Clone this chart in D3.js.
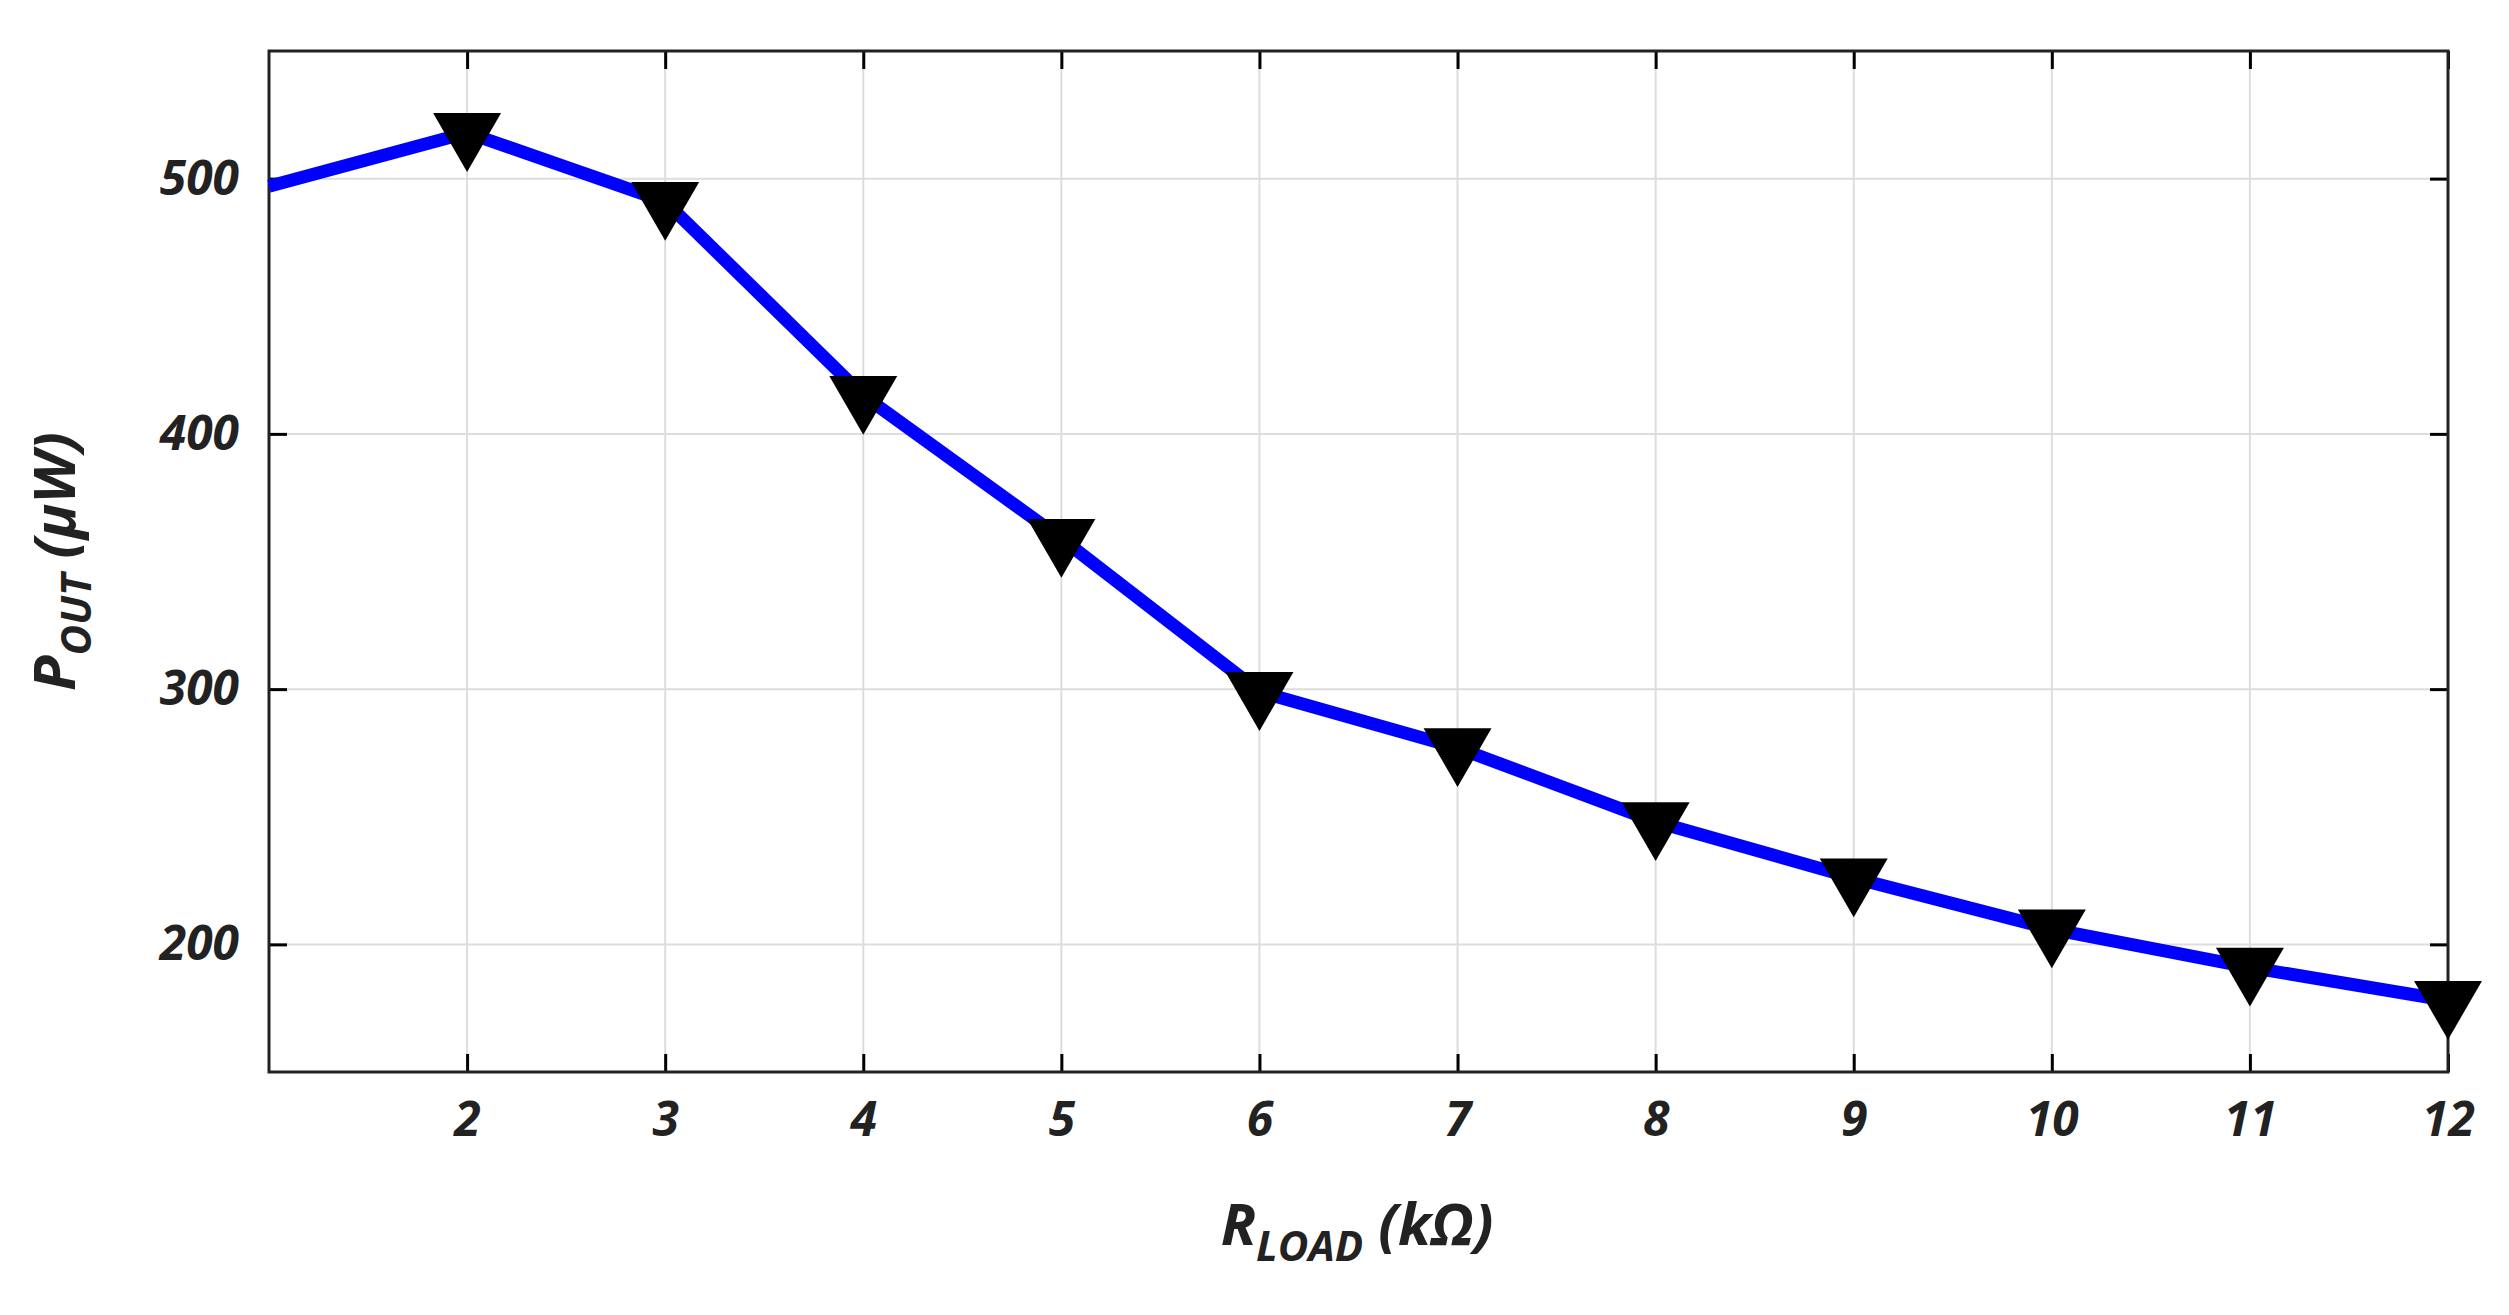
<!DOCTYPE html>
<html><head><meta charset="utf-8">
<script src="https://cdn.jsdelivr.net/npm/d3@7"></script>
<style>body{margin:0;background:#fff}text{font-family:"Open Sans",sans-serif;font-weight:bold;font-style:italic;fill:#222}</style>
</head><body>
<script>
// Output power vs load resistance
var rLoad = [1, 2, 3, 4, 5, 6, 7, 8, 9, 10, 11, 12];
var pOut = [497, 518, 491, 415, 359, 299, 277, 248, 226, 206, 191, 178];
var xTicks = [2, 3, 4, 5, 6, 7, 8, 9, 10, 11, 12];
var yTicks = [200, 300, 400, 500];

var width = 2509, height = 1315;
var m = {left: 269, right: 61, top: 51, bottom: 243};

var svg = d3.select("body").append("svg").attr("width", width).attr("height", height);

var x = d3.scaleLinear().domain([1, 12]).range([m.left, width - m.right]);
var y = d3.scaleLinear().domain([150, 550]).range([height - m.bottom, m.top]);

// grid
svg.selectAll(".gx").data(xTicks).enter().append("line")
  .attr("x1", d => x(d)).attr("x2", d => x(d)).attr("y1", y(150)).attr("y2", y(550))
  .attr("stroke", "#ddd").attr("stroke-width", 2);
svg.selectAll(".gy").data(yTicks).enter().append("line")
  .attr("y1", d => y(d)).attr("y2", d => y(d)).attr("x1", x(1)).attr("x2", x(12))
  .attr("stroke", "#ddd").attr("stroke-width", 2);

// axes, ticks inward
var fmt = g => g.call(s => s.select(".domain").remove()).selectAll("text").style("font-size", "48px");
svg.append("g").attr("transform", "translate(0," + y(150) + ")")
  .call(d3.axisBottom(x).tickValues(xTicks).tickSizeInner(-18).tickSizeOuter(0).tickPadding(30))
  .call(fmt).selectAll("line").attr("stroke-width", 3);
svg.append("g").attr("transform", "translate(0," + y(550) + ")")
  .call(d3.axisTop(x).tickValues(xTicks).tickSizeInner(-18).tickSizeOuter(0).tickFormat(""))
  .call(fmt).selectAll("line").attr("stroke-width", 3);
svg.append("g").attr("transform", "translate(" + x(1) + ",0)")
  .call(d3.axisLeft(y).tickValues(yTicks).tickSizeInner(-18).tickSizeOuter(0).tickPadding(30))
  .call(fmt).selectAll("line").attr("stroke-width", 3);
svg.append("g").attr("transform", "translate(" + x(12) + ",0)")
  .call(d3.axisRight(y).tickValues(yTicks).tickSizeInner(-18).tickSizeOuter(0).tickFormat(""))
  .call(fmt).selectAll("line").attr("stroke-width", 3);
svg.append("rect").attr("x", x(1)).attr("y", y(550)).attr("width", x(12) - x(1)).attr("height", y(150) - y(550))
  .attr("fill", "none").attr("stroke", "#222").attr("stroke-width", 3);

var pts = rLoad.map((r, i) => [r, pOut[i]]);
svg.append("path").datum(pts)
  .attr("d", d3.line().x(d => x(d[0])).y(d => y(d[1])))
  .attr("fill", "none").attr("stroke", "#0000ff").attr("stroke-width", 13);

var tri = d3.symbol().type(d3.symbolTriangle).size(2000);
svg.selectAll(".mk").data(pts.slice(1)).enter().append("path")
  .attr("d", tri).attr("fill", "#000")
  .attr("transform", d => "translate(" + x(d[0]) + "," + y(d[1]) + ") rotate(180)");

// labels
svg.append("text").attr("x", 1357).attr("y", 1245).attr("text-anchor", "middle").style("font-size", "58px")
  .html('R<tspan dy="16" font-size="42">LOAD</tspan><tspan dy="-16"> (k\u03A9)</tspan>');
svg.append("text").attr("transform", "translate(75," + ((y(150) + y(550)) / 2) + ") rotate(-90)")
  .attr("text-anchor", "middle").style("font-size", "58px")
  .html('P<tspan dy="16" font-size="42">OUT</tspan><tspan dy="-16"> (\u03BCW)</tspan>');
</script>
</body></html>
